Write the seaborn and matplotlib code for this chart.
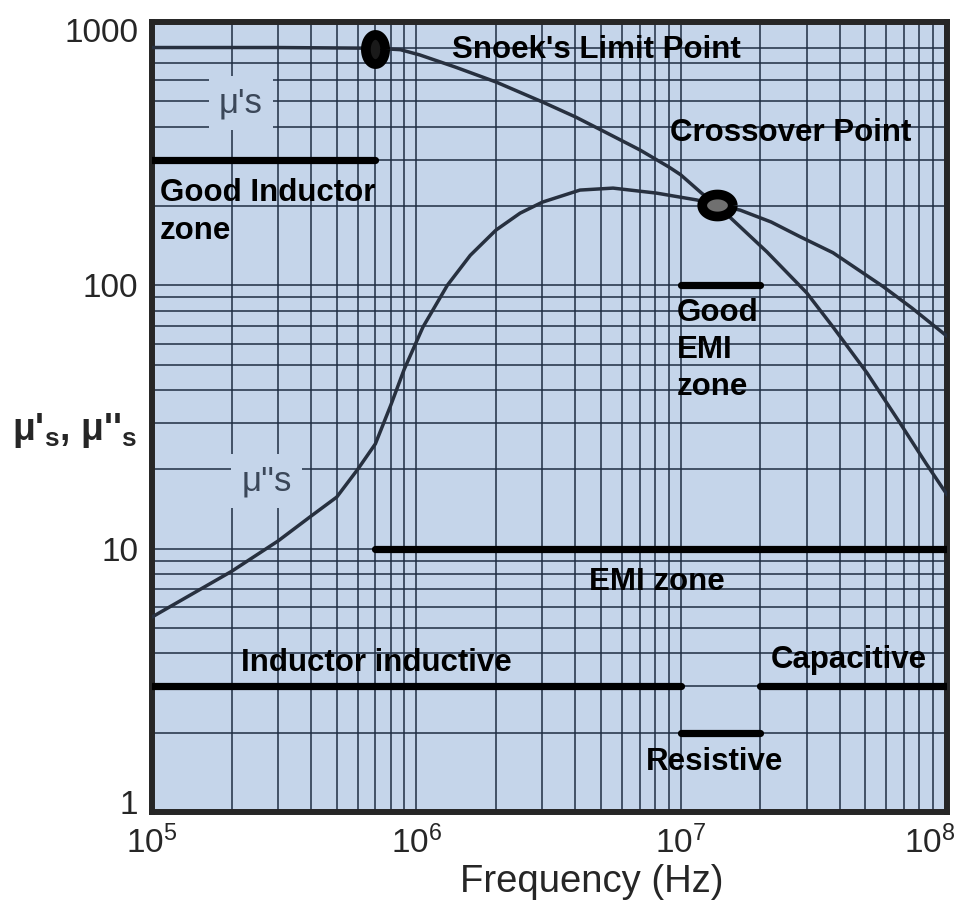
import numpy as np
import pandas as pd
import matplotlib
matplotlib.use("Agg")
import matplotlib.pyplot as plt
import matplotlib.transforms as mtransforms
import seaborn as sns
from matplotlib.path import Path
from matplotlib.ticker import FixedLocator, NullFormatter, LogLocator

# ---------------- data ----------------
mu_p_freq = [1e5, 3e5, 7e5, 8.7e5, 1.03e6, 1.4e6, 2e6, 3e6, 4e6, 5e6, 7e6, 9e6, 1e7,
             1.2e7, 1.37e7, 2.12e7, 3e7, 3.77e7, 5.07e7, 6.76e7, 8.5e7, 1.02e8]
mu_p = [800, 800, 795, 785, 750, 675, 592, 497, 436, 389, 327, 282, 263,
        224, 202, 134, 93.6, 69.5, 46.5, 30, 21, 16]

mu_pp_freq = [1e5, 2e5, 3e5, 4e5, 5e5, 6e5, 7e5, 8e5, 9e5, 1.06e6, 1.31e6, 1.6e6,
              2e6, 2.47e6, 3e6, 4.16e6, 5.55e6, 8.1e6, 1.15e7, 1.37e7, 1.68e7, 2.2e7,
              2.83e7, 3.77e7, 5.83e7, 7.5e7, 1.02e8]
mu_pp = [5.5, 8.2, 10.7, 13.3, 15.7, 20, 25, 35, 48, 69.5, 100, 130,
         162, 188, 207, 230, 234, 224, 211, 202, 193, 174,
         153, 133, 99, 82, 64]

zone_names = ["Good Inductor zone", "Good EMI zone", "EMI zone",
              "Inductor inductive", "Capacitive", "Resistive"]
zone_start = [1e5, 1e7, 7e5, 1e5, 2e7, 1e7]
zone_end = [7e5, 2e7, 1.018e8, 1e7, 1.018e8, 2e7]
zone_level = [300, 100, 10, 3, 3, 2]

point_names = ["Snoek's Limit Point", "Crossover Point"]
point_freq = [7e5, 1.37e7]
point_mu = [790, 202]

x_ticks = [1e5, 1e6, 1e7, 1e8]
y_ticks = [1, 10, 100, 1000]
y_tick_labels = ["1", "10", "100", "1000"]

# ---------------- style ----------------
sns.set_theme(style="white")
plt.rcParams['font.family'] = ['Liberation Sans', 'DejaVu Sans']
plt.rcParams['mathtext.fontset'] = 'custom'
plt.rcParams['mathtext.rm'] = 'Liberation Sans'
plt.rcParams['mathtext.bf'] = 'Liberation Sans:bold'

BG = '#c5d5ea'
GRID = '#1f2d42'
CURVE = '#27303f'
TXT = '#262626'

fig = plt.figure(figsize=(9.58, 9.07), dpi=100)
ax = fig.add_axes([152/958, (907-812)/907, (947-152)/958, (812-22)/907])
ax.set_facecolor(BG)

df_p = pd.DataFrame({'freq': mu_p_freq, 'mu': mu_p})
df_pp = pd.DataFrame({'freq': mu_pp_freq, 'mu': mu_pp})
sns.lineplot(data=df_p, x='freq', y='mu', ax=ax, color=CURVE, lw=2.5,
             sort=False, estimator=None, zorder=3)
sns.lineplot(data=df_pp, x='freq', y='mu', ax=ax, color=CURVE, lw=2.5,
             sort=False, estimator=None, zorder=3)

ax.set_xscale('log')
ax.set_yscale('log')
ax.set_xlim(1e5, 1.018e8)
ax.set_ylim(1, 1000)

# zone bars
for s, e, lv in zip(zone_start, zone_end, zone_level):
    ax.plot([s, e], [lv, lv], color='black', lw=5.2, solid_capstyle='round', zorder=4)

# ellipse markers
t = np.linspace(0, 2*np.pi, 60)
vert_ell = Path(np.column_stack([0.66*np.cos(t), np.sin(t)]))
horiz_ell = Path(np.column_stack([np.cos(t), 0.72*np.sin(t)]))
ax.plot([point_freq[0]], [point_mu[0]], marker=vert_ell, ms=21, mew=7,
        mec='black', mfc='#1a1a1a', ls='none', zorder=5)
ax.plot([point_freq[1]], [point_mu[1]], marker=horiz_ell, ms=22, mew=7,
        mec='black', mfc='#707070', ls='none', zorder=5)

# grid / ticks
ax.set_xticks(x_ticks)
ax.xaxis.set_minor_locator(LogLocator(base=10, subs=range(2, 10), numticks=30))
ax.xaxis.set_minor_formatter(NullFormatter())
ax.set_yticks(y_ticks)
ax.set_yticklabels(y_tick_labels)
ymin = [m*d for d in (1, 10) for m in range(2, 10)] + [m*100 for m in range(2, 9)]
ax.yaxis.set_minor_locator(FixedLocator(ymin))
ax.yaxis.set_minor_formatter(NullFormatter())
ax.grid(True, which='both', color=GRID, lw=1.1)
ax.set_axisbelow(True)
ax.tick_params(which='both', length=0)
ax.tick_params(axis='y', labelsize=24, labelcolor=TXT, pad=10)
ax.tick_params(axis='x', labelsize=24, labelcolor=TXT, pad=10)
for sp in ax.spines.values():
    sp.set_visible(True)
    sp.set_color('#262626')
    sp.set_linewidth(4.3)
ax.set_xlabel('')
ax.set_ylabel('')

yl = ax.get_yticklabels()
yl[0].set_transform(yl[0].get_transform() +
                    mtransforms.ScaledTranslation(0, 10/100, fig.dpi_scale_trans))
yl[-1].set_transform(yl[-1].get_transform() +
                     mtransforms.ScaledTranslation(0, -8/100, fig.dpi_scale_trans))
xl = ax.get_xticklabels()
xl[-1].set_transform(xl[-1].get_transform() +
                     mtransforms.ScaledTranslation(-15/100, 0, fig.dpi_scale_trans))

# annotations
bold = dict(fontsize=22.5, fontweight='bold', color='black', zorder=6)
ax.text(1.37e6, 783, point_names[0], ha='left', va='center', **bold)
ax.text(9.1e6, 379, point_names[1], ha='left', va='center', **bold)
ax.text(1.07e5, 10**((812-212)/263.3), "Good Inductor\nzone", ha='left', va='center',
        linespacing=1.32, **bold)
ax.text(9.7e6, 10**((812-350)/263.3), "Good\nEMI\nzone", ha='left', va='center',
        linespacing=1.32, **bold)
ax.text(8.14e6, 7.47, "EMI zone", ha='center', va='center', **bold)
ax.text(7.04e5, 3.68, "Inductor inductive", ha='center', va='center', **bold)
ax.text(4.34e7, 3.78, "Capacitive", ha='center', va='center', **bold)
ax.text(1.34e7, 1.55, "Resistive", ha='center', va='center', **bold)

lab = dict(fontsize=25, color='#3b4759', zorder=6,
           bbox=dict(boxstyle='square,pad=0.3', fc=BG, ec='none'))
ax.text(2.17e5, 493, "\u03bc's", ha='center', va='center', **lab)
ax.text(2.72e5, 18.1, "\u03bc''s", ha='center', va='center', **lab)

fig.text(75/958, 1-430/907, "\u03bc'$\\mathbf{_s}$, \u03bc''$\\mathbf{_s}$",
         ha='center', va='center', fontsize=27, fontweight='bold', color=TXT)
fig.text(592/958, 1-882/907, "Frequency (Hz)", ha='center', va='center',
         fontsize=27.5, color=TXT)

fig.savefig('out.png', dpi=100, facecolor='white')
